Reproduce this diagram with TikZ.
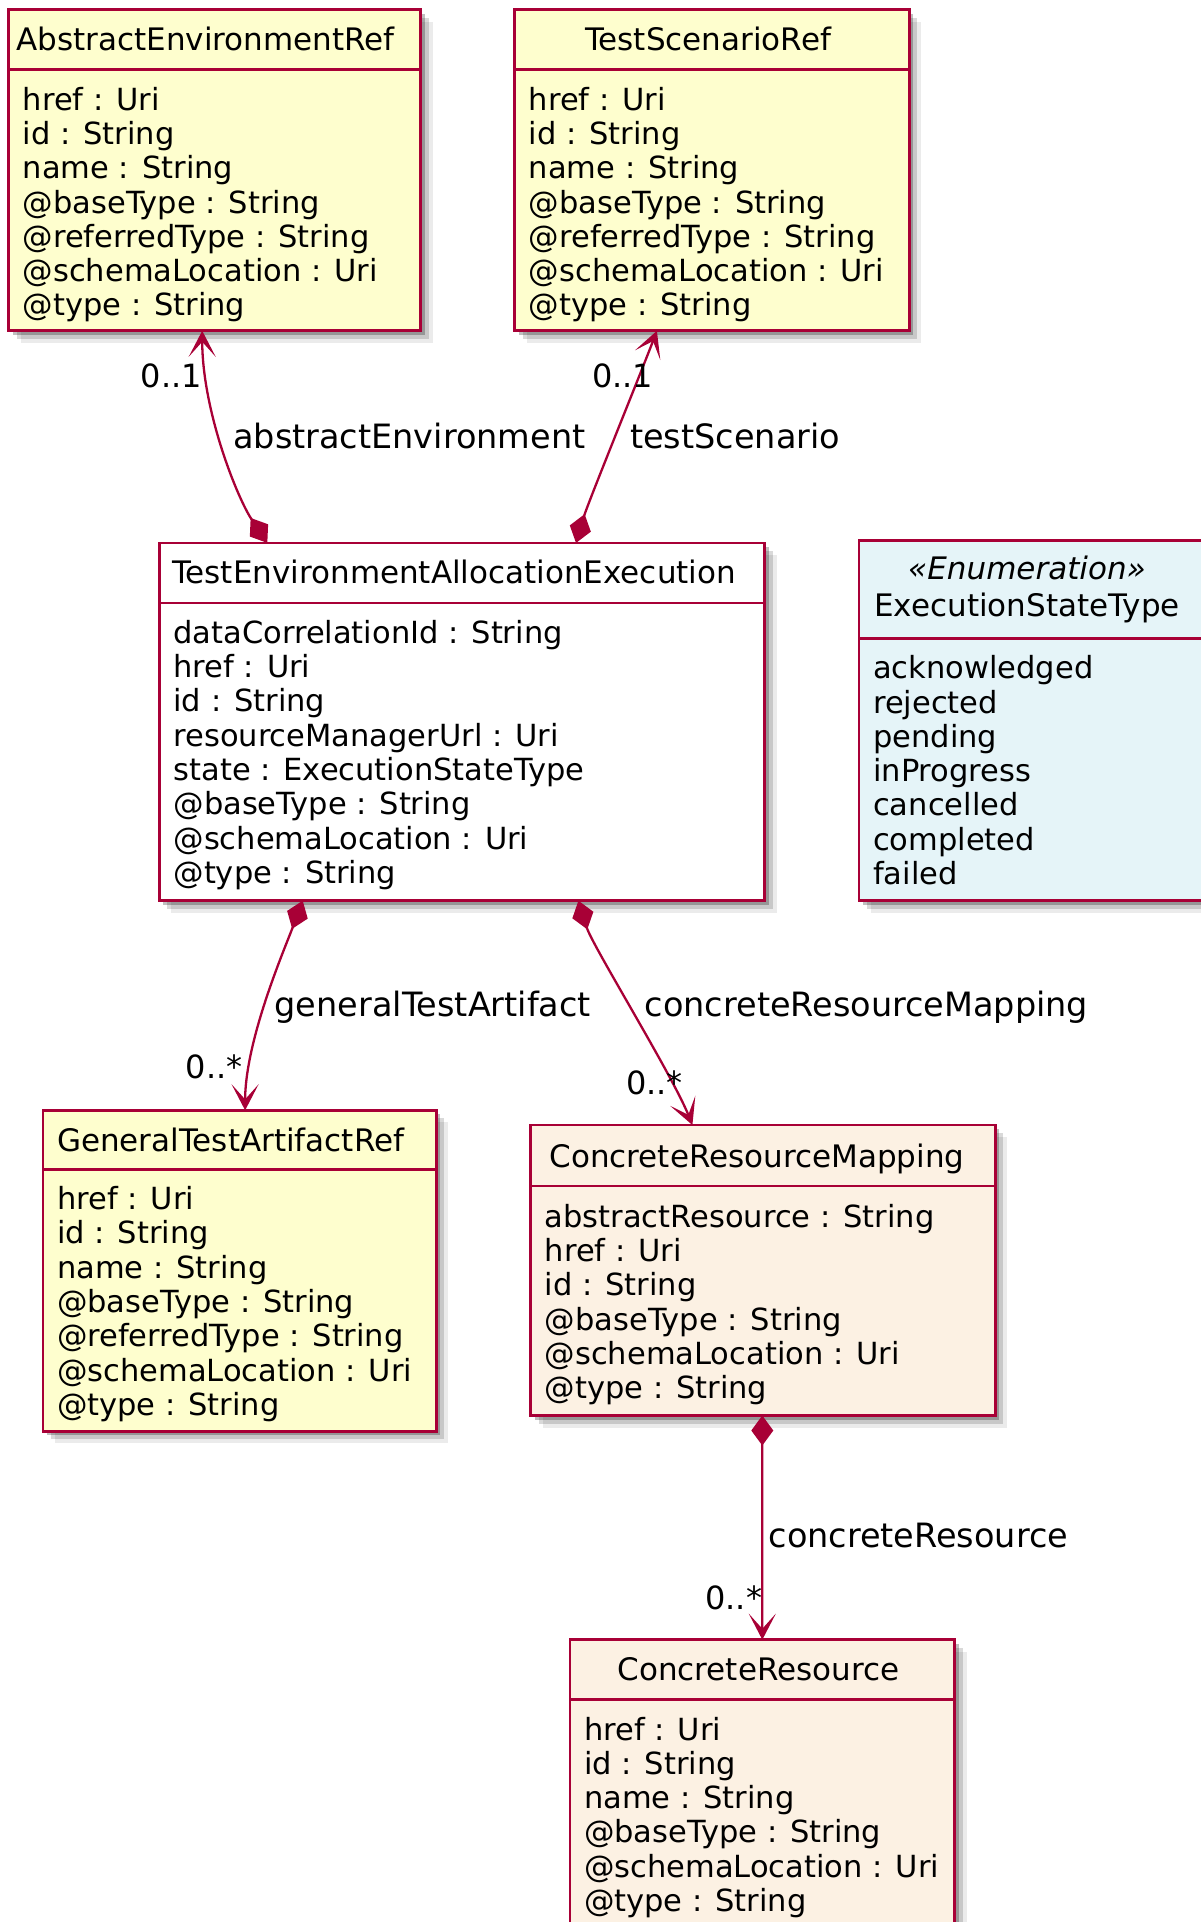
\documentclass[tikz,border=0pt]{standalone}
\usepackage{fontspec}
\setmainfont{DejaVu Sans}
\usepackage{tikz}
\usetikzlibrary{arrows.meta,shadows}
\definecolor{umlred}{HTML}{A80036}
\definecolor{refyellow}{HTML}{FEFECE}
\definecolor{enumblue}{HTML}{E5F4F8}
\definecolor{resbeige}{HTML}{FCF1E3}

\begin{document}
\begin{tikzpicture}
		[x=1pt,y=-1pt,
		cls/.style= {draw=umlred,line width=2.8pt,anchor=north west,outer sep=0pt,inner sep=0pt,
			drop shadow={shadow xshift=12pt,shadow yshift=-12pt,fill=black,opacity=0.08},
			drop shadow={shadow xshift=8pt,shadow yshift=-8pt,fill=black,opacity=0.15},
			drop shadow={shadow xshift=4pt,shadow yshift=-4pt,fill=black,opacity=0.25}},
		hd/.style= {inner sep=0pt,font=\fontsize{31}{36.7}\selectfont,text height=23pt,text depth=0pt},
		att/.style= {inner sep=0pt,anchor=north west,align=left,font=\fontsize{30.5}{34.3}\selectfont},
		sep/.style= {draw=umlred,line width=2.8pt},
		lbl/.style= {inner sep=0pt,font=\fontsize{33.5}{40}\selectfont,text height=24pt,text depth=0pt},
		mult/.style= {inner sep=0pt,font=\fontsize{32}{38}\selectfont,text height=23pt,text depth=0pt},
		comp/.style= {draw=umlred,line width=2.3pt,{Diamond[length=30pt,width=22pt]}-{Stealth[length=26pt,width=27pt,inset=15pt]}}]

		\useasboundingbox (0,0) rectangle (1201,1922);

		\node[cls,fill=refyellow,minimum width=412pt,minimum height=321pt] (aer) at (8.6,9.8) {};
		\node[hd] (aerT) at ([xshift=-9pt,yshift=-29.5pt]aer.north) {AbstractEnvironmentRef};
		\draw[sep] ([yshift=-60pt]aer.north west) -- ([yshift=-60pt]aer.north east);
		\node[att] (aerA) at ([xshift=14pt,yshift=-77pt]aer.north west)
			{href : Uri\\id : String\\name : String\\@baseType : String\\@referredType : String\\@schemaLocation : Uri\\@type : String};

		\node[cls,fill=refyellow,minimum width=394.6pt,minimum height=321pt] (tsr) at (514.7,9.8) {};
		\node[hd] (tsrT) at ([xshift=-4pt,yshift=-29.5pt]tsr.north) {TestScenarioRef};
		\draw[sep] ([yshift=-60pt]tsr.north west) -- ([yshift=-60pt]tsr.north east);
		\node[att] (tsrA) at ([xshift=14pt,yshift=-77pt]tsr.north west)
			{href : Uri\\id : String\\name : String\\@baseType : String\\@referredType : String\\@schemaLocation : Uri\\@type : String};

		\node[cls,fill=white,minimum width=605.4pt,minimum height=357.8pt] (teae) at (159.3,542.9) {};
		\node[hd] (teaeT) at ([xshift=-8pt,yshift=-29.5pt]teae.north) {TestEnvironmentAllocationExecution};
		\draw[sep] ([yshift=-60pt]teae.north west) -- ([yshift=-60pt]teae.north east);
		\node[att] (teaeA) at ([xshift=14pt,yshift=-77pt]teae.north west)
			{dataCorrelationId : String\\href : Uri\\id : String\\resourceManagerUrl : Uri\\state : ExecutionStateType\\@baseType : String\\@schemaLocation : Uri\\@type : String};

		\node[cls,fill=enumblue,minimum width=370pt,minimum height=360.3pt] (est) at (859,540.4) {};
		\node[inner sep=0pt,align=center,font=\fontsize{31}{36.7}\selectfont] (estT) at ([xshift=168pt,yshift=-49pt]est.north west)
			{\textit{«Enumeration»}\\ExecutionStateType};
		\draw[sep] ([yshift=-98pt]est.north west) -- ([yshift=-98pt]est.north east);
		\node[att] (estA) at ([xshift=14pt,yshift=-115pt]est.north west)
			{acknowledged\\rejected\\pending\\inProgress\\cancelled\\completed\\failed};

		\node[cls,fill=refyellow,minimum width=393.4pt,minimum height=321pt] (gtar) at (42.9,1110.3) {};
		\node[hd] (gtarT) at ([xshift=-9pt,yshift=-29.5pt]gtar.north) {GeneralTestArtifactRef};
		\draw[sep] ([yshift=-59pt]gtar.north west) -- ([yshift=-59pt]gtar.north east);
		\node[att] (gtarA) at ([xshift=14pt,yshift=-76pt]gtar.north west)
			{href : Uri\\id : String\\name : String\\@baseType : String\\@referredType : String\\@schemaLocation : Uri\\@type : String};

		\node[cls,fill=resbeige,minimum width=464.5pt,minimum height=290.5pt] (crm) at (530.6,1125) {};
		\node[hd] (crmT) at ([xshift=-6pt,yshift=-30.5pt]crm.north) {ConcreteResourceMapping};
		\draw[sep] ([yshift=-61pt]crm.north west) -- ([yshift=-61pt]crm.north east);
		\node[att] (crmA) at ([xshift=14pt,yshift=-79pt]crm.north west)
			{abstractResource : String\\href : Uri\\id : String\\@baseType : String\\@schemaLocation : Uri\\@type : String};

		\node[cls,fill=resbeige,minimum width=384.8pt,minimum height=287pt] (cr) at (569.9,1639.7) {};
		\node[hd] (crT) at ([xshift=-4pt,yshift=-29.5pt]cr.north) {ConcreteResource};
		\draw[sep] ([yshift=-60pt]cr.north west) -- ([yshift=-60pt]cr.north east);
		\node[att] (crA) at ([xshift=14pt,yshift=-77pt]cr.north west)
			{href : Uri\\id : String\\name : String\\@baseType : String\\@schemaLocation : Uri\\@type : String};

		\draw[comp] ([xshift=108pt]teae.north west) .. controls +(-30,-45) and +(0,80) .. ([xshift=193.6pt]aer.south west);
		\draw[comp] ([xshift=416.7pt]teae.north west) .. controls +(12,-40) and +(-16,42) .. ([xshift=142.2pt]tsr.south west);
		\draw[comp] ([xshift=143.4pt]teae.south west) .. controls +(-18,48) and +(0,-70) .. ([xshift=202.2pt]gtar.north west);
		\draw[comp] ([xshift=419.1pt]teae.south west) .. controls +(14,45) and +(-20,-50) .. ([xshift=161.8pt]crm.north west);
		\draw[comp] ([xshift=231.7pt]crm.south west) -- ([xshift=192.4pt]cr.north west);

		\node[lbl,anchor=west] (aeLbl) at (233,436.3) {abstractEnvironment};
		\node[mult,anchor=east] (aeMul) at (202,376.2) {0..1};
		\node[lbl,anchor=west] (tsLbl) at (630,436.3) {testScenario};
		\node[mult,anchor=west] (tsMul) at (592,376.2) {0..1};
		\node[lbl,anchor=west] (gtaLbl) at (274.5,1004.9) {generalTestArtifact};
		\node[mult,anchor=east] (gtaMul) at (242.6,1067.4) {0..*};
		\node[lbl,anchor=west] (crmLbl) at (644.6,1004.9) {concreteResourceMapping};
		\node[mult,anchor=west] (crmMul) at (626,1083.3) {0..*};
		\node[lbl,anchor=west] (crLbl) at (768.4,1535.5) {concreteResource};
		\node[mult,anchor=east] (crMul) at (762.3,1598) {0..*};

	\end{tikzpicture}
\end{document}
